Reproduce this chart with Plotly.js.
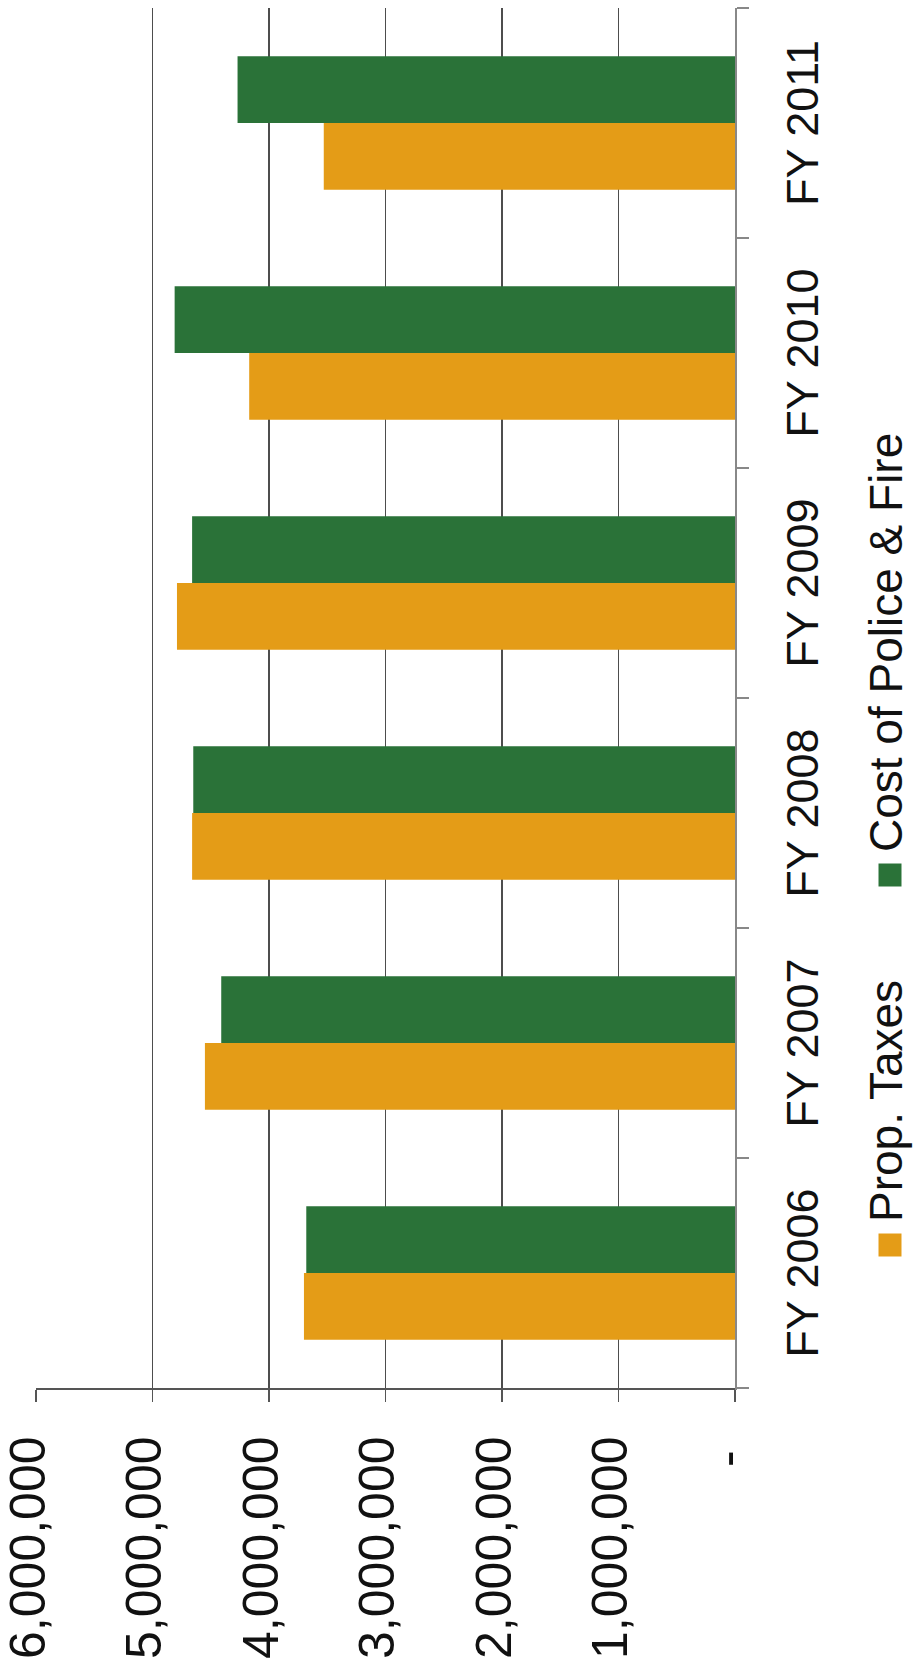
<!DOCTYPE html>
<html>
<head>
<meta charset="utf-8">
<script src="https://cdn.plot.ly/plotly-3.0.1.min.js"></script>
<style>
html,body{margin:0;padding:0;width:917px;height:1673px;overflow:hidden;background:#ffffff;}
#chart{position:absolute;left:0;top:0;width:1673px;height:917px;transform-origin:0 0;transform:translate(0px,1673px) rotate(-90deg);}
</style>
</head>
<body>
<div id="chart"></div>
<script>
// ---- data ----
const categories = ['FY 2006', 'FY 2007', 'FY 2008', 'FY 2009', 'FY 2010', 'FY 2011'];
const propTaxes = [3700000, 4550000, 4660000, 4790000, 4170000, 3530000];
const policeFire = [3680000, 4410000, 4650000, 4660000, 4810000, 4270000];
const seriesNames = ['Prop. Taxes', 'Cost of Police & Fire'];
const valueTicks = [0, 1000000, 2000000, 3000000, 4000000, 5000000, 6000000];
const valueTickText = ['-\u00a0', '1,000,000', '2,000,000', '3,000,000', '4,000,000', '5,000,000', '6,000,000'];

// ---- styles ----
const ORANGE = '#E49C17';
const GREEN = '#2A7238';
const FONT = 'Liberation Sans, Arial, Helvetica, sans-serif';

// unrotated chart frame (the page shows it rotated 90deg counter-clockwise)
const W = 1673, H = 917;
const M = {l: 285, r: 8, t: 36, b: 182};
const PW = W - M.l - M.r, PH = H - M.t - M.b;
const px = u => (u - M.l) / PW;
const py = v => 1 - (v - M.t) / PH;

const traces = [
  {type: 'bar', x: categories, y: propTaxes, name: seriesNames[0],
   marker: {color: ORANGE, line: {width: 0}}, hoverinfo: 'x+y+name'},
  {type: 'bar', x: categories, y: policeFire, name: seriesNames[1],
   marker: {color: GREEN, line: {width: 0}}, hoverinfo: 'x+y+name'}
];

// custom legend (squares + labels)
const legendV = 886, sq = 23;
const legendItems = [
  {u: 428, textU: 450, color: ORANGE, name: seriesNames[0]},
  {u: 798, textU: 820, color: GREEN, name: seriesNames[1]}
];
const shapes = legendItems.map(it => ({
  type: 'rect', xref: 'paper', yref: 'paper',
  x0: px(it.u - sq / 2), x1: px(it.u + sq / 2),
  y0: py(legendV + 4 + sq / 2), y1: py(legendV + 4 - sq / 2),
  fillcolor: it.color, line: {width: 0}
}));
const annotations = legendItems.map(it => ({
  xref: 'paper', yref: 'paper', x: px(it.textU), y: py(legendV),
  xanchor: 'left', yanchor: 'middle', showarrow: false, borderpad: 0,
  text: it.name, font: {family: FONT, size: 46, color: '#111'}
}));

const layout = {
  width: W, height: H,
  margin: M,
  paper_bgcolor: '#ffffff', plot_bgcolor: '#ffffff',
  barmode: 'group', bargap: 0.42, bargroupgap: 0,
  showlegend: false,
  xaxis: {
    type: 'category', tickson: 'boundaries', ticks: 'outside', ticklen: 12,
    tickcolor: '#888', tickwidth: 1.5,
    showline: true, linecolor: '#888', linewidth: 1.5,
    showgrid: false, zeroline: false,
    tickfont: {family: FONT, size: 45, color: '#111'},
    ticklabelstandoff: 27
  },
  yaxis: {
    range: [0, 6000000], tickvals: valueTicks, ticktext: valueTickText,
    ticks: 'outside', ticklen: 12, tickcolor: '#555', tickwidth: 1.3,
    showline: true, linecolor: '#555', linewidth: 1.5,
    showgrid: true, gridcolor: '#4d4d4d', gridwidth: 1.3,
    zeroline: false,
    tickfont: {family: FONT, size: 50, color: '#111'},
    ticklabelstandoff: 25, ticklabelshift: -9, ticklabeloverflow: 'allow'
  },
  shapes: shapes,
  annotations: annotations
};

Plotly.newPlot('chart', traces, layout, {staticPlot: true, displayModeBar: false});
</script>
</body>
</html>
